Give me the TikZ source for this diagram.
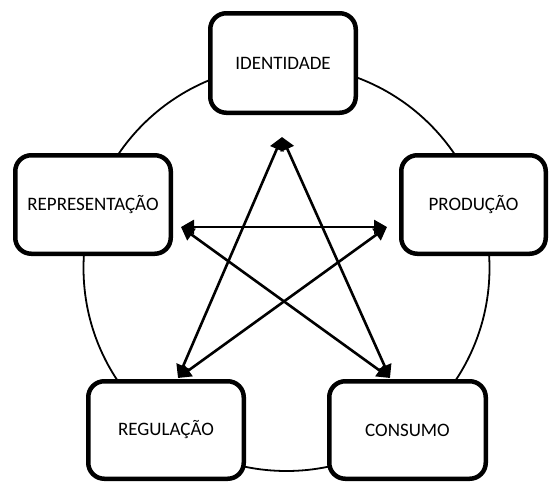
\documentclass[tikz,border=0pt]{standalone}
\usepackage{fontspec}
\setmainfont{Carlito}
\usetikzlibrary{arrows.meta}
\begin{document}
\begin{tikzpicture}[x=1pt,y=-1pt,
  concept/.style={draw=black,fill=white,line width=4.5pt,rounded corners=16pt,
    font=\fontsize{19}{22}\selectfont,inner sep=0pt},
  link/.style={line width=2.6pt,{Triangle[length=13pt,width=14pt]}-{Triangle[length=13pt,width=14pt]}},
  ring/.style={line width=1.8pt}]
\useasboundingbox (0,0) rectangle (549,482);
\coordinate (c) at (286.5,268);
\draw[ring] (c) circle[radius=203];
\node[concept,minimum width=145.5pt,minimum height=99.5pt] (ide) at (283,63) {IDENTIDADE};
\node[concept,minimum width=155.5pt,minimum height=98.5pt] (rep) at (93,204.5) {REPRESENTAÇÃO};
\node[concept,minimum width=144.5pt,minimum height=98.5pt] (pro) at (473.5,204.5) {PRODUÇÃO};
\node[concept,minimum width=155.5pt,minimum height=97.5pt] (reg) at (166,430) {REGULAÇÃO};
\node[concept,minimum width=156.5pt,minimum height=97.5pt] (con) at (407.5,430) {CONSUMO};
\coordinate (tT) at (282,137);
\coordinate (tL) at (181,227);
\coordinate (tR) at (387,227);
\coordinate (tBL) at (178,378);
\coordinate (tBR) at (390,378);
\draw[link] (tT) -- (tBL);
\draw[link] (tT) -- (tBR);
\draw[link] (tL) -- (tR);
\draw[link] (tL) -- (tBR);
\draw[link] (tR) -- (tBL);
\end{tikzpicture}
\end{document}
